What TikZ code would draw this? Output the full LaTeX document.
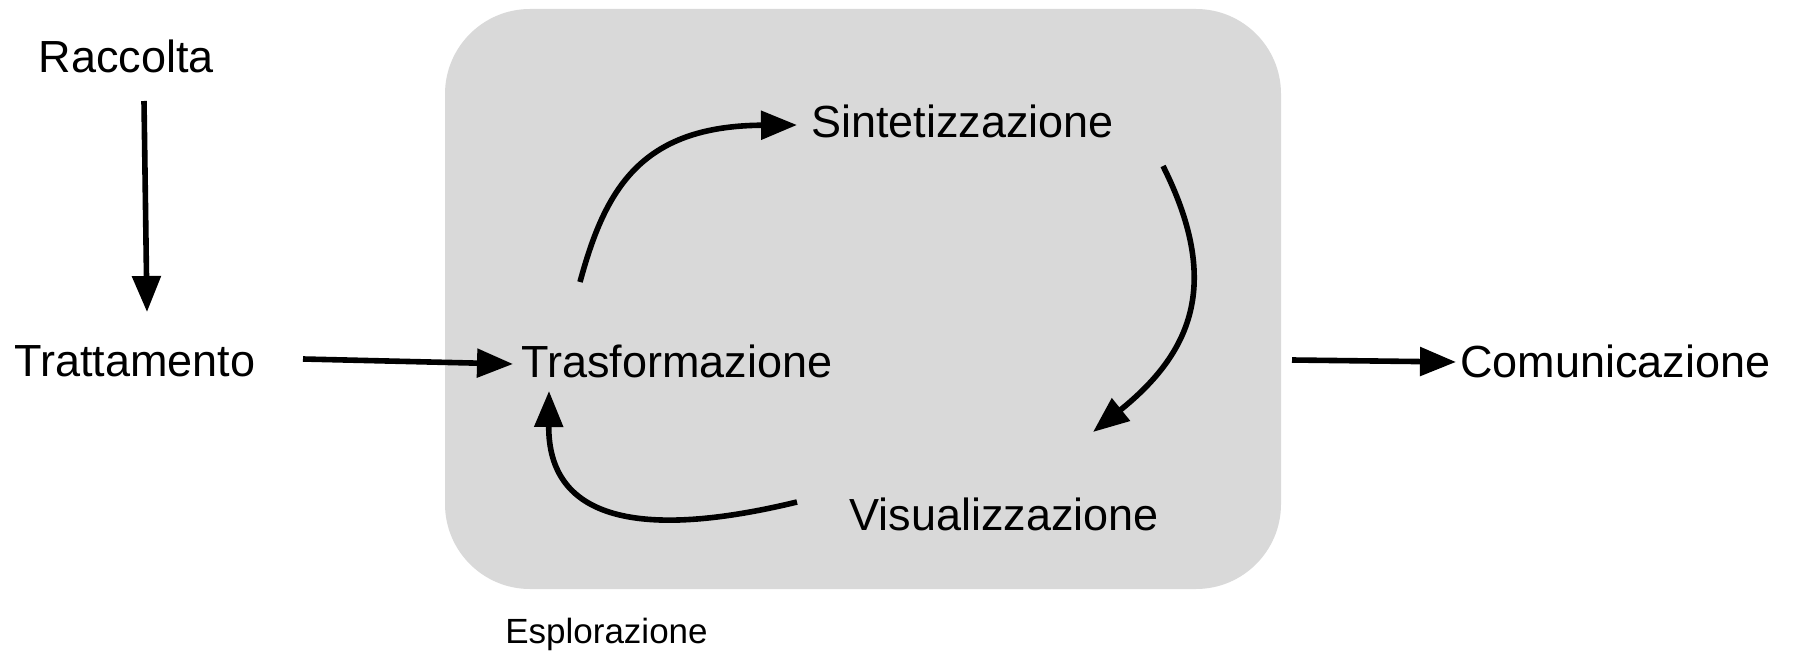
\documentclass[tikz,border=0pt]{standalone}
\usepackage{fontspec}
\setmainfont{Liberation Sans}
\usetikzlibrary{arrows.meta,calc}
\definecolor{boxgray}{HTML}{D9D9D9}
\tikzset{
  lbl/.style={inner sep=0pt, anchor=base, font=\fontsize{22.5pt}{27pt}\selectfont},
  smalllbl/.style={inner sep=0pt, anchor=base, font=\fontsize{17.5pt}{21pt}\selectfont},
  arr/.style={line width=2.8pt, -{Triangle[length=18pt,width=14pt]}},
  panel/.style={fill=boxgray, draw=none, rounded corners=42.5pt}
}
\begin{document}
\begin{tikzpicture}[x=0.5pt,y=-0.5pt]
\useasboundingbox (0,0) rectangle (1793,652);
\fill[white] (0,0) rectangle (1793,652);
\path[panel] (445,9) rectangle (1281,589);

\node[lbl] (racc) at (126.5,73) {Raccolta};
\node[lbl] (tratt) at (135,376) {Trattamento};
\node[lbl] (trasf) at (677,377) {Trasformazione};
\node[lbl] (sint) at (962.5,138) {Sintetizzazione};
\node[lbl] (vis) at (1004,530) {Visualizzazione};
\node[lbl] (com) at (1615.5,377) {Comunicazione};
\node[smalllbl] (espl) at (606.5,643) {Esplorazione};

\draw[arr] ($(racc.base)+(17.5,28)$) -- ($(tratt.base)+(12,-64)$);
\draw[arr] ($(tratt.base)+(168,-17)$) -- ($(trasf.base)+(-164,-13)$);
\draw[arr] ($(com.base)+(-323.5,-17)$) -- ($(com.base)+(-159.5,-15)$);

\draw[arr] ($(trasf.base)+(-97,-95)$) .. controls (605,190) and (640,126) .. ($(sint.base)+(-165.5,-13)$);
\draw[arr] ($(sint.base)+(200.5,28)$) .. controls (1220,280) and (1195,350) .. ($(vis.base)+(89,-98)$);
\draw[arr] ($(vis.base)+(-207,-28)$) .. controls (640,540) and (548,520) .. ($(trasf.base)+(-128,14)$);
\end{tikzpicture}
\end{document}
